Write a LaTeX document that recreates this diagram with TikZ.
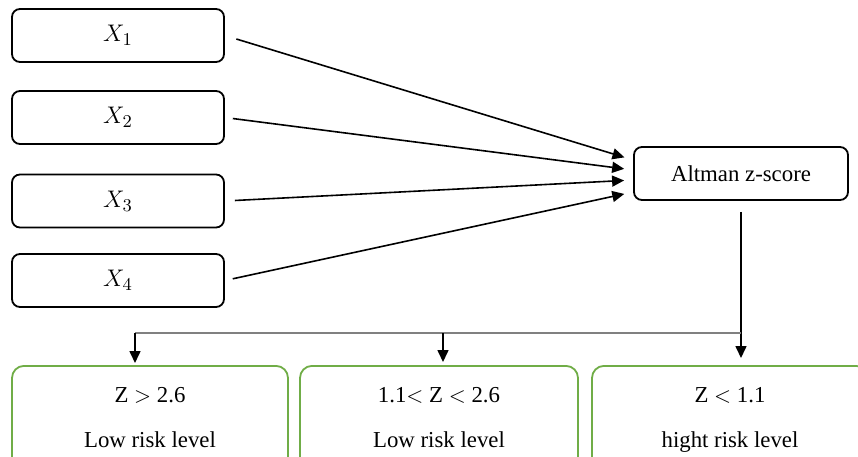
\documentclass[tikz,border=0pt]{standalone}
\usepackage{fontspec}
\setmainfont{Liberation Serif}
\usetikzlibrary{arrows.meta,calc}

\definecolor{riskgreen}{RGB}{112,173,71}
\definecolor{forkgray}{RGB}{128,128,128}

\tikzset{
  varbox/.style={draw,rounded corners=4pt,line width=0.9pt,minimum width=106pt,minimum height=26.5pt,font=\fontsize{11.4}{13}\selectfont},
  riskbox/.style={draw=riskgreen,rounded corners=6pt,line width=0.9pt,minimum width=138pt,anchor=north,align=center,inner ysep=10.8pt,font=\fontsize{11.4}{22.5}\selectfont},
  link/.style={line width=0.8pt,-{Triangle[length=6pt,width=5.5pt]}},
}

\begin{document}
\begin{tikzpicture}[x=0.5pt,y=-0.5pt]
\useasboundingbox (0,0) rectangle (858,456);
\clip (0,0) rectangle (858,456);

% ratios
\node[varbox,font=\fontsize{13}{15}\selectfont] (x1) at (118,35.5) {$X_1$};
\node[varbox,font=\fontsize{13}{15}\selectfont] (x2) at (118,117.5) {$X_2$};
\node[varbox,font=\fontsize{13}{15}\selectfont] (x3) at (118,201) {$X_3$};
\node[varbox,font=\fontsize{13}{15}\selectfont] (x4) at (118,280.5) {$X_4$};

\node[varbox,minimum width=107pt] (alt) at (741,173.5) {Altman z-score};

% zones
\node[riskbox] (r1) at (150,365) {Z $>$ 2.6\\Low risk level};
\node[riskbox,minimum width=139pt] (r2) at (439,365) {1.1$<$ Z $<$ 2.6\\Low risk level};
\node[riskbox] (r3) at (730,365) {Z $<$ 1.1\\hight risk level};

\draw[link,shorten <=6pt,shorten >=4.5pt] (x1.east) -- ([yshift=6.75pt]alt.west);
\draw[link,shorten <=4pt,shorten >=4.5pt] (x2.east) -- ([yshift=1.75pt]alt.west);
\draw[link,shorten <=5pt,shorten >=4.5pt] (x3.east) -- ([yshift=-3.25pt]alt.west);
\draw[link,shorten <=4pt,shorten >=4.5pt] (x4.east) -- ([yshift=-9.25pt]alt.west);

\coordinate (fork) at (741,333);
\coordinate (forkL) at (135,333);
\coordinate (forkM) at (443,333);

\draw[link,shorten <=5.5pt,shorten >=3.5pt] (alt.south) -- (alt.south |- r3.north);
\draw[forkgray,line width=1pt] (forkL) -- (fork);
\draw[link,shorten >=1pt] (forkL) -- (forkL |- r1.north);
\draw[link,shorten >=1.5pt] (forkM) -- (forkM |- r2.north);

\end{tikzpicture}
\end{document}
